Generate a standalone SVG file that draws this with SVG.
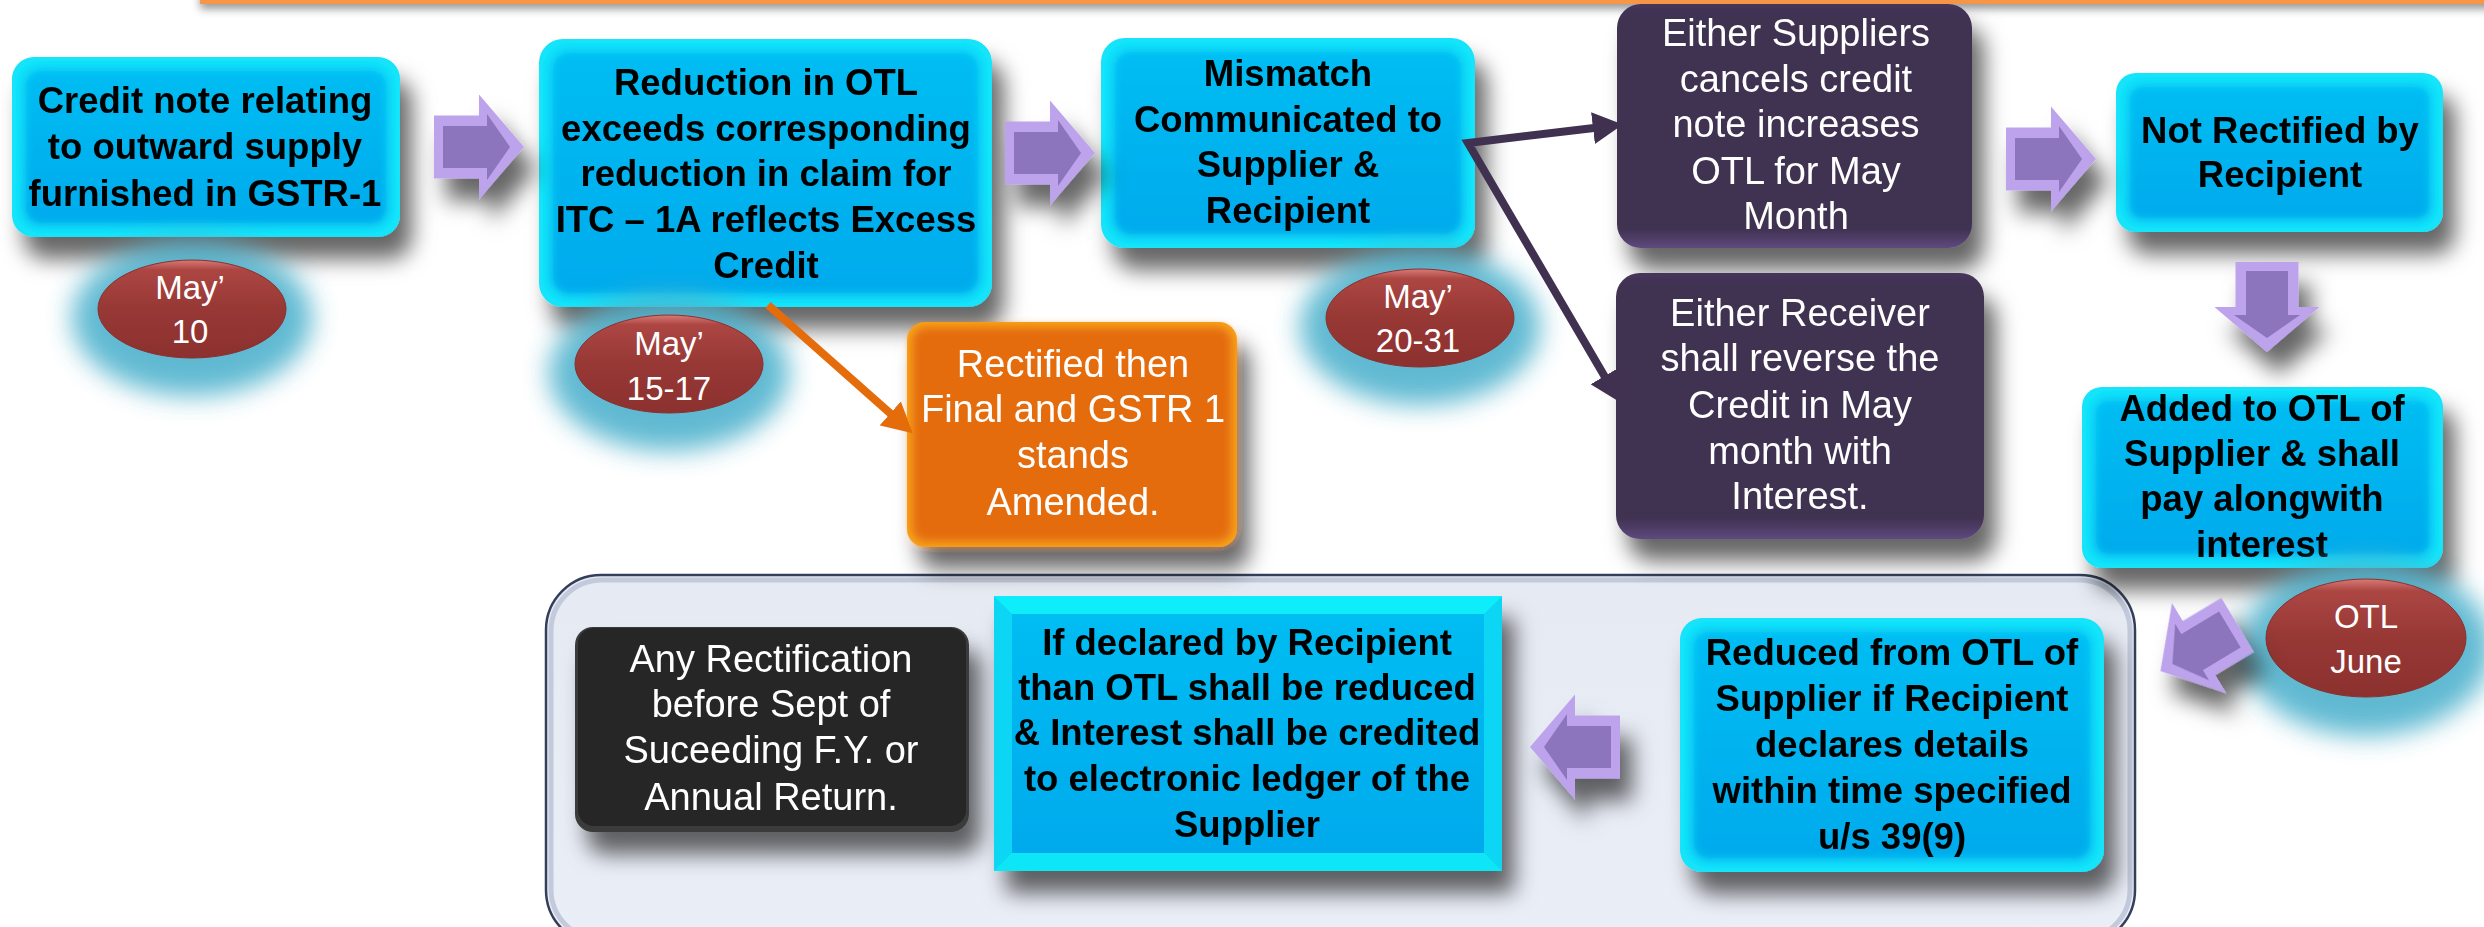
<svg xmlns="http://www.w3.org/2000/svg" width="2484" height="927" viewBox="0 0 2484 927">
<style>
.b{font-family:"Liberation Sans",Arial,sans-serif;font-weight:700;font-size:36.5px;fill:#000;text-anchor:middle}
.w{font-family:"Liberation Sans",Arial,sans-serif;font-size:38px;fill:#fff;text-anchor:middle}
.ot{font-family:"Liberation Sans",Arial,sans-serif;font-size:33px;fill:#fff;text-anchor:middle}
.cyo{fill:#12E4FA}
.cyi{fill:url(#cyg)}
.pur{fill:url(#pug)}
.halo{fill:#4FB2CD;opacity:.9}
.ov{fill:url(#ovg);stroke:#8A302E;stroke-width:1}
</style>
<defs>
<linearGradient id="cyg" x1="0" y1="0" x2="0" y2="1">
<stop offset="0" stop-color="#00BDF3"/><stop offset="1" stop-color="#00AAEC"/>
</linearGradient>
<linearGradient id="pug" x1="0" y1="0" x2="0" y2="1">
<stop offset="0" stop-color="#46355A"/><stop offset=".05" stop-color="#403151"/><stop offset=".92" stop-color="#403151"/><stop offset="1" stop-color="#5E4A7E"/>
</linearGradient>
<linearGradient id="ovg" x1="0" y1="0" x2="0" y2="1">
<stop offset="0" stop-color="#D87A76"/><stop offset=".1" stop-color="#AC4643"/><stop offset=".5" stop-color="#973835"/><stop offset="1" stop-color="#8C312F"/>
</linearGradient>
<linearGradient id="cong" x1="0" y1="0" x2="0" y2="1">
<stop offset="0" stop-color="#E6EAF3"/><stop offset="1" stop-color="#EAEEF7"/>
</linearGradient>
<filter id="sh" x="-20%" y="-20%" width="160%" height="170%">
<feDropShadow dx="12" dy="22" stdDeviation="11" flood-color="#000" flood-opacity="0.6"/>
</filter>
<filter id="sh2" x="-20%" y="-50%" width="140%" height="300%">
<feDropShadow dx="0" dy="5" stdDeviation="4" flood-color="#000" flood-opacity="0.4"/>
</filter>
<filter id="soft" x="-10%" y="-10%" width="120%" height="120%"><feGaussianBlur stdDeviation="5"/></filter>
<filter id="hb" x="-60%" y="-60%" width="220%" height="220%"><feGaussianBlur stdDeviation="13"/></filter>
<marker id="mo" viewBox="0 0 30 32" refX="1" refY="16" markerWidth="30" markerHeight="32" markerUnits="userSpaceOnUse" orient="auto-start-reverse">
<path d="M0,0 L30,16 L0,32 Z" fill="#E46C0A"/>
</marker>
<marker id="mp" viewBox="0 0 30 32" refX="1" refY="16" markerWidth="30" markerHeight="32" markerUnits="userSpaceOnUse" orient="auto-start-reverse">
<path d="M0,0 L30,16 L0,32 Z" fill="#403151"/>
</marker>
<g id="barrow">
<path d="M-45,-31.5 L0,-31.5 L0,-52.5 L45,0 L0,52.5 L0,31.5 L-45,31.5 Z" fill="#BCA3EC"/>
<path d="M-36,-21 L8,-21 L8,-33 L31,0 L8,33 L8,21 L-36,21 Z" fill="#8C74BC"/>
</g>
</defs>

<rect width="2484" height="927" fill="#FFFFFF"/>

<g id="topbar" filter="url(#sh2)">
<rect x="202" y="-100" width="2400" height="102" fill="#FFFFFF" stroke="#F79646" stroke-width="4"/>
</g>

<g id="container">
<rect x="546" y="575" width="1589" height="370" rx="55" fill="url(#cong)" stroke="#34405A" stroke-width="2.5"/>
<rect x="551" y="580" width="1579" height="360" rx="51" fill="none" stroke="#C3CADB" stroke-width="5"/>
</g>

<g id="n1" filter="url(#sh)">
<rect class="cyo" x="12" y="57" width="388" height="180" rx="22"/>
<rect class="cyi" x="24" y="69" width="364" height="156" rx="16" filter="url(#soft)"/>
<text class="b"><tspan x="205" y="113">Credit note relating</tspan><tspan x="205" y="159">to outward supply</tspan><tspan x="205" y="206">furnished in GSTR-1</tspan></text>
</g>

<g id="n2" filter="url(#sh)">
<rect class="cyo" x="539" y="39" width="453" height="268" rx="24"/>
<rect class="cyi" x="551" y="51" width="429" height="244" rx="18" filter="url(#soft)"/>
<text class="b"><tspan x="766" y="95">Reduction in OTL</tspan><tspan x="766" y="141">exceeds corresponding</tspan><tspan x="766" y="186">reduction in claim for</tspan><tspan x="766" y="232">ITC – 1A reflects Excess</tspan><tspan x="766" y="278">Credit</tspan></text>
</g>

<g id="n3" filter="url(#sh)">
<rect class="cyo" x="1101" y="38" width="374" height="210" rx="24"/>
<rect class="cyi" x="1113" y="50" width="350" height="186" rx="18" filter="url(#soft)"/>
<text class="b"><tspan x="1288" y="86">Mismatch</tspan><tspan x="1288" y="132">Communicated to</tspan><tspan x="1288" y="177">Supplier &amp;</tspan><tspan x="1288" y="223">Recipient</tspan></text>
</g>

<g id="pa" filter="url(#sh)">
<rect class="pur" x="1617" y="4" width="355" height="244" rx="24"/>
<text class="w"><tspan x="1796" y="46">Either Suppliers</tspan><tspan x="1796" y="92">cancels credit</tspan><tspan x="1796" y="137">note increases</tspan><tspan x="1796" y="184">OTL for May</tspan><tspan x="1796" y="229">Month</tspan></text>
</g>

<g id="pb" filter="url(#sh)">
<rect class="pur" x="1616" y="273" width="368" height="266" rx="24"/>
<text class="w"><tspan x="1800" y="326">Either Receiver</tspan><tspan x="1800" y="371">shall reverse the</tspan><tspan x="1800" y="418">Credit in May</tspan><tspan x="1800" y="464">month with</tspan><tspan x="1800" y="509">Interest.</tspan></text>
</g>

<g id="nr" filter="url(#sh)">
<rect class="cyo" x="2116" y="73" width="327" height="159" rx="20"/>
<rect class="cyi" x="2128" y="85" width="303" height="135" rx="14" filter="url(#soft)"/>
<text class="b"><tspan x="2280" y="143">Not Rectified by</tspan><tspan x="2280" y="187">Recipient</tspan></text>
</g>

<g id="add" filter="url(#sh)">
<rect class="cyo" x="2082" y="387" width="361" height="181" rx="20"/>
<rect class="cyi" x="2094" y="399" width="337" height="157" rx="14" filter="url(#soft)"/>
<text class="b"><tspan x="2262" y="421">Added to OTL of</tspan><tspan x="2262" y="466">Supplier &amp; shall</tspan><tspan x="2262" y="511">pay alongwith</tspan><tspan x="2262" y="557">interest</tspan></text>
</g>

<g id="orange" filter="url(#sh)">
<rect x="907" y="322" width="330" height="225" rx="18" fill="#F9A51E"/>
<rect x="912" y="327" width="320" height="215" rx="14" fill="#E46C0A" filter="url(#soft)"/>
<text class="w"><tspan x="1073" y="377">Rectified then</tspan><tspan x="1073" y="422">Final and GSTR 1</tspan><tspan x="1073" y="468">stands</tspan><tspan x="1073" y="515">Amended.</tspan></text>
</g>

<g id="black" filter="url(#sh)">
<rect x="575" y="627" width="394" height="205" rx="18" fill="#3A3A3A"/>
<rect x="578" y="628" width="388" height="198" rx="16" fill="#262626"/>
<text class="w"><tspan x="771" y="672">Any Rectification</tspan><tspan x="771" y="717">before Sept of</tspan><tspan x="771" y="763">Suceeding F.Y. or</tspan><tspan x="771" y="810">Annual Return.</tspan></text>
</g>

<g id="decl" filter="url(#sh)">
<rect x="994" y="596" width="508" height="275" fill="#10D6F4"/>
<polygon points="994,596 1502,596 1484,614 1012,614" fill="#0AEDFA"/>
<polygon points="994,871 1502,871 1484,853 1012,853" fill="#0AE6F7"/>
<rect x="1012" y="614" width="472" height="239" fill="url(#cyg)"/>
<text class="b"><tspan x="1247" y="655">If declared by Recipient</tspan><tspan x="1247" y="700">than OTL shall be reduced</tspan><tspan x="1247" y="745">&amp; Interest shall be credited</tspan><tspan x="1247" y="791">to electronic ledger of the</tspan><tspan x="1247" y="837">Supplier</tspan></text>
</g>

<g id="red" filter="url(#sh)">
<rect class="cyo" x="1680" y="618" width="424" height="254" rx="22"/>
<rect class="cyi" x="1692" y="630" width="400" height="230" rx="16" filter="url(#soft)"/>
<text class="b"><tspan x="1892" y="665">Reduced from OTL of</tspan><tspan x="1892" y="711">Supplier if Recipient</tspan><tspan x="1892" y="757">declares details</tspan><tspan x="1892" y="803">within time specified</tspan><tspan x="1892" y="849">u/s 39(9)</tspan></text>
</g>

<g id="o1">
<ellipse class="halo" cx="192" cy="318" rx="120" ry="78" filter="url(#hb)"/>
<ellipse class="ov" cx="192" cy="309" rx="94" ry="49"/>
<text class="ot"><tspan x="190" y="299">May’</tspan><tspan x="190" y="343">10</tspan></text>
</g>

<g id="o2">
<ellipse class="halo" cx="669" cy="373" rx="120" ry="78" filter="url(#hb)"/>
<ellipse class="ov" cx="669" cy="364" rx="94" ry="49"/>
<text class="ot"><tspan x="669" y="355">May’</tspan><tspan x="669" y="400">15-17</tspan></text>
</g>

<g id="o3">
<ellipse class="halo" cx="1420" cy="327" rx="120" ry="78" filter="url(#hb)"/>
<ellipse class="ov" cx="1420" cy="318" rx="94" ry="49"/>
<text class="ot"><tspan x="1418" y="308">May’</tspan><tspan x="1418" y="352">20-31</tspan></text>
</g>

<g id="o4">
<ellipse class="halo" cx="2366" cy="648" rx="126" ry="88" filter="url(#hb)"/>
<ellipse class="ov" cx="2366" cy="638" rx="100" ry="59"/>
<text class="ot"><tspan x="2366" y="628">OTL</tspan><tspan x="2366" y="673">June</tspan></text>
</g>

<g id="connectors">
<path d="M768,305 L891,414" fill="none" stroke="#E46C0A" stroke-width="8" marker-end="url(#mo)"/>
<path d="M1594,128 L1468,143 L1605,377" fill="none" stroke="#403151" stroke-width="8" stroke-linejoin="miter" marker-start="url(#mp)" marker-end="url(#mp)"/>
<g filter="url(#sh)">
<use href="#barrow" transform="translate(479,147)"/>
<use href="#barrow" transform="translate(1050,153)"/>
<use href="#barrow" transform="translate(2051,159)"/>
<use href="#barrow" transform="translate(2267,307) rotate(90)"/>
<use href="#barrow" transform="translate(1575,747) rotate(180)"/>
<use href="#barrow" transform="translate(2199,648) rotate(149)"/>
</g>
</g>
</svg>
